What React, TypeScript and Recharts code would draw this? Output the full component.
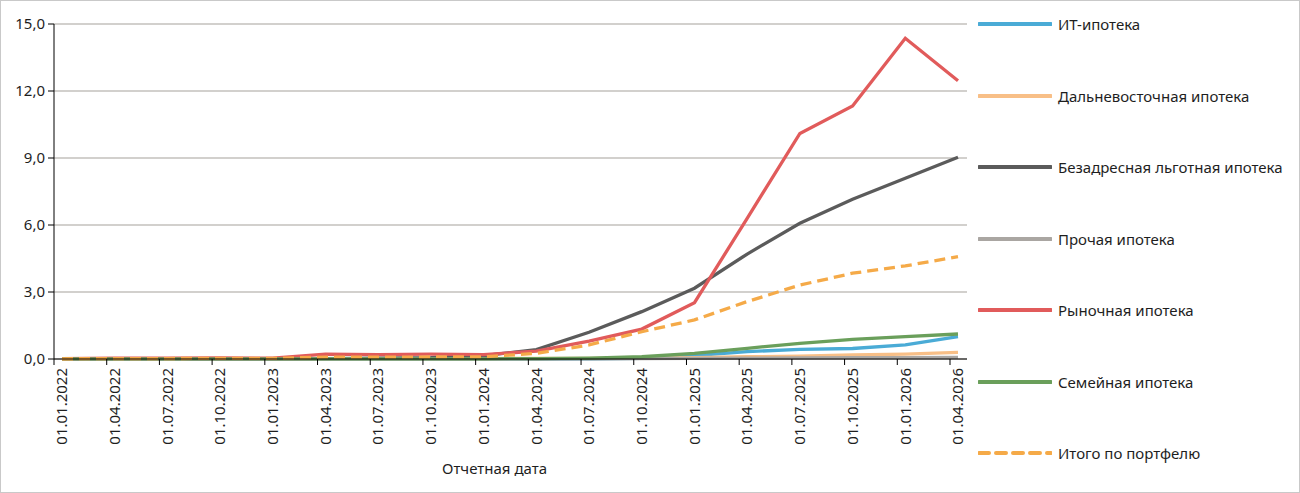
import { LineChart, Line, XAxis, YAxis, CartesianGrid } from 'recharts';

// ==========================================
// DATA
// ==========================================

const dates = [
  '01.01.2022', '01.04.2022', '01.07.2022', '01.10.2022',
  '01.01.2023', '01.04.2023', '01.07.2023', '01.10.2023',
  '01.01.2024', '01.04.2024', '01.07.2024', '01.10.2024',
  '01.01.2025', '01.04.2025', '01.07.2025', '01.10.2025',
  '01.01.2026', '01.04.2026'
];

const itMortgage = [0, 0, 0, 0, 0, 0, 0, 0, 0, 0, 0.01, 0.03, 0.15, 0.33, 0.43, 0.47, 0.63, 1.0];
const farEast = [0.01, 0.01, 0.01, 0.01, 0.01, 0.02, 0.02, 0.02, 0.02, 0.03, 0.03, 0.04, 0.06, 0.1, 0.13, 0.18, 0.22, 0.3];
const untargeted = [0, 0, 0, 0, 0, 0.02, 0.04, 0.06, 0.15, 0.42, 1.2, 2.12, 3.17, 4.7, 6.08, 7.15, 8.09, 9.03];
const other = [0, 0, 0, 0, 0, 0, 0, 0, 0, 0, 0.01, 0.02, 0.03, 0.04, 0.05, 0.06, 0.06, 0.07];
const market = [0.02, 0.04, 0.04, 0.05, 0.04, 0.22, 0.2, 0.22, 0.2, 0.35, 0.8, 1.34, 2.52, 6.3, 10.1, 11.33, 14.36, 12.46];
const family = [0.01, 0.01, 0.01, 0.01, 0.01, 0.01, 0.01, 0.01, 0.01, 0.02, 0.04, 0.1, 0.25, 0.48, 0.7, 0.88, 1.0, 1.12];
const total = [0.01, 0.02, 0.02, 0.03, 0.03, 0.08, 0.08, 0.09, 0.1, 0.25, 0.63, 1.22, 1.75, 2.57, 3.31, 3.84, 4.17, 4.58];

const yTicks = [0, 3, 6, 9, 12, 15];

const series = [
  { key: 'it', name: 'ИТ-ипотека', values: itMortgage, color: '#4aabd6', dashed: false },
  { key: 'farEast', name: 'Дальневосточная ипотека', values: farEast, color: '#f8bf87', dashed: false },
  { key: 'untargeted', name: 'Безадресная льготная ипотека', values: untargeted, color: '#5b5b5b', dashed: false },
  { key: 'other', name: 'Прочая ипотека', values: other, color: '#aaa6a2', dashed: false },
  { key: 'market', name: 'Рыночная ипотека', values: market, color: '#e15b5b', dashed: false },
  { key: 'family', name: 'Семейная ипотека', values: family, color: '#6a9f5b', dashed: false },
  { key: 'total', name: 'Итого по портфелю', values: total, color: '#f5aa48', dashed: true }
];

const data = dates.map((date, i) => {
  const row: Record<string, any> = { date };
  series.forEach(s => {
    row[s.key] = s.values[i];
  });
  return row;
});

const FONT = '"Noto Sans", sans-serif';
const TEXT = '#1e1e1e';

// ==========================================
// TICK
// ==========================================

function DateTick(props: any) {
  const { x, y, payload } = props;
  return (
    <g>
      <line x1={x - 8} y1={y} x2={x - 8} y2={y + 6} stroke="#000" strokeWidth={1} />
      <text
        x={x}
        y={y + 9}
        transform={`rotate(-90 ${x} ${y + 9})`}
        textAnchor="end"
        dy="0.35em"
        fontSize={15}
        fontFamily={FONT}
        fill={TEXT}
      >
        {payload.value}
      </text>
    </g>
  );
}

function AxisTitle(props: any) {
  const { viewBox } = props;
  return (
    <text
      x={viewBox.x + viewBox.width / 2 - 16}
      y={viewBox.y + viewBox.height - 19}
      textAnchor="middle"
      fontSize={15}
      fontFamily={FONT}
      fill={TEXT}
    >
      Отчетная дата
    </text>
  );
}

// ==========================================
// CHART
// ==========================================

export default function App() {
  return (
    <div
      style={{
        position: 'fixed',
        top: 0,
        left: 0,
        width: 1300,
        height: 493,
        boxSizing: 'border-box',
        border: '1px solid #c9c9c9',
        background: '#fff',
        fontFamily: FONT
      }}
    >
      <div style={{ position: 'absolute', top: -1, left: -1 }}>
        <LineChart
          width={980}
          height={493}
          data={data}
          margin={{ top: 24, right: 13, left: 0, bottom: 0 }}
        >
          <CartesianGrid vertical={false} stroke="#c3c0bc" strokeWidth={1.3} />

          <XAxis
            dataKey="date"
            height={134}
            padding={{ left: 8, right: 9 }}
            axisLine={{ stroke: '#000', strokeWidth: 1 }}
            tickLine={false}
            tickSize={0}
            tickMargin={0}
            interval={0}
            tick={<DateTick />}
            label={<AxisTitle />}
          />

          <YAxis
            width={54}
            domain={[0, 15]}
            ticks={yTicks}
            interval={0}
            tickFormatter={(v: number) => v.toFixed(1).replace('.', ',')}
            axisLine={{ stroke: '#000', strokeWidth: 1 }}
            tickLine={{ stroke: '#000', strokeWidth: 1 }}
            tickSize={6}
            tickMargin={3}
            tick={{ fill: TEXT, fontSize: 15, fontFamily: FONT }}
          />

          {series.map(s => (
            <Line
              key={s.key}
              type="linear"
              dataKey={s.key}
              name={s.name}
              stroke={s.color}
              strokeWidth={3.3}
              strokeDasharray={s.dashed ? '11 6' : undefined}
              dot={false}
              activeDot={false}
              isAnimationActive={false}
            />
          ))}
        </LineChart>
      </div>

      {/* LEGEND */}

      {series.map((s, i) => (
        <div
          key={s.key}
          style={{
            position: 'absolute',
            left: 977,
            top: 23 + i * 71.5 - 12,
            height: 24,
            display: 'flex',
            alignItems: 'center',
            whiteSpace: 'nowrap'
          }}
        >
          <svg width={74} height={6} style={{ display: 'block' }}>
            <line
              x1={1}
              y1={3}
              x2={73}
              y2={3}
              stroke={s.color}
              strokeWidth={4}
              strokeLinecap="round"
              strokeDasharray={s.dashed ? '10 7' : undefined}
            />
          </svg>
          <span style={{ marginLeft: 6, fontSize: 15, color: TEXT }}>{s.name}</span>
        </div>
      ))}
    </div>
  );
}
